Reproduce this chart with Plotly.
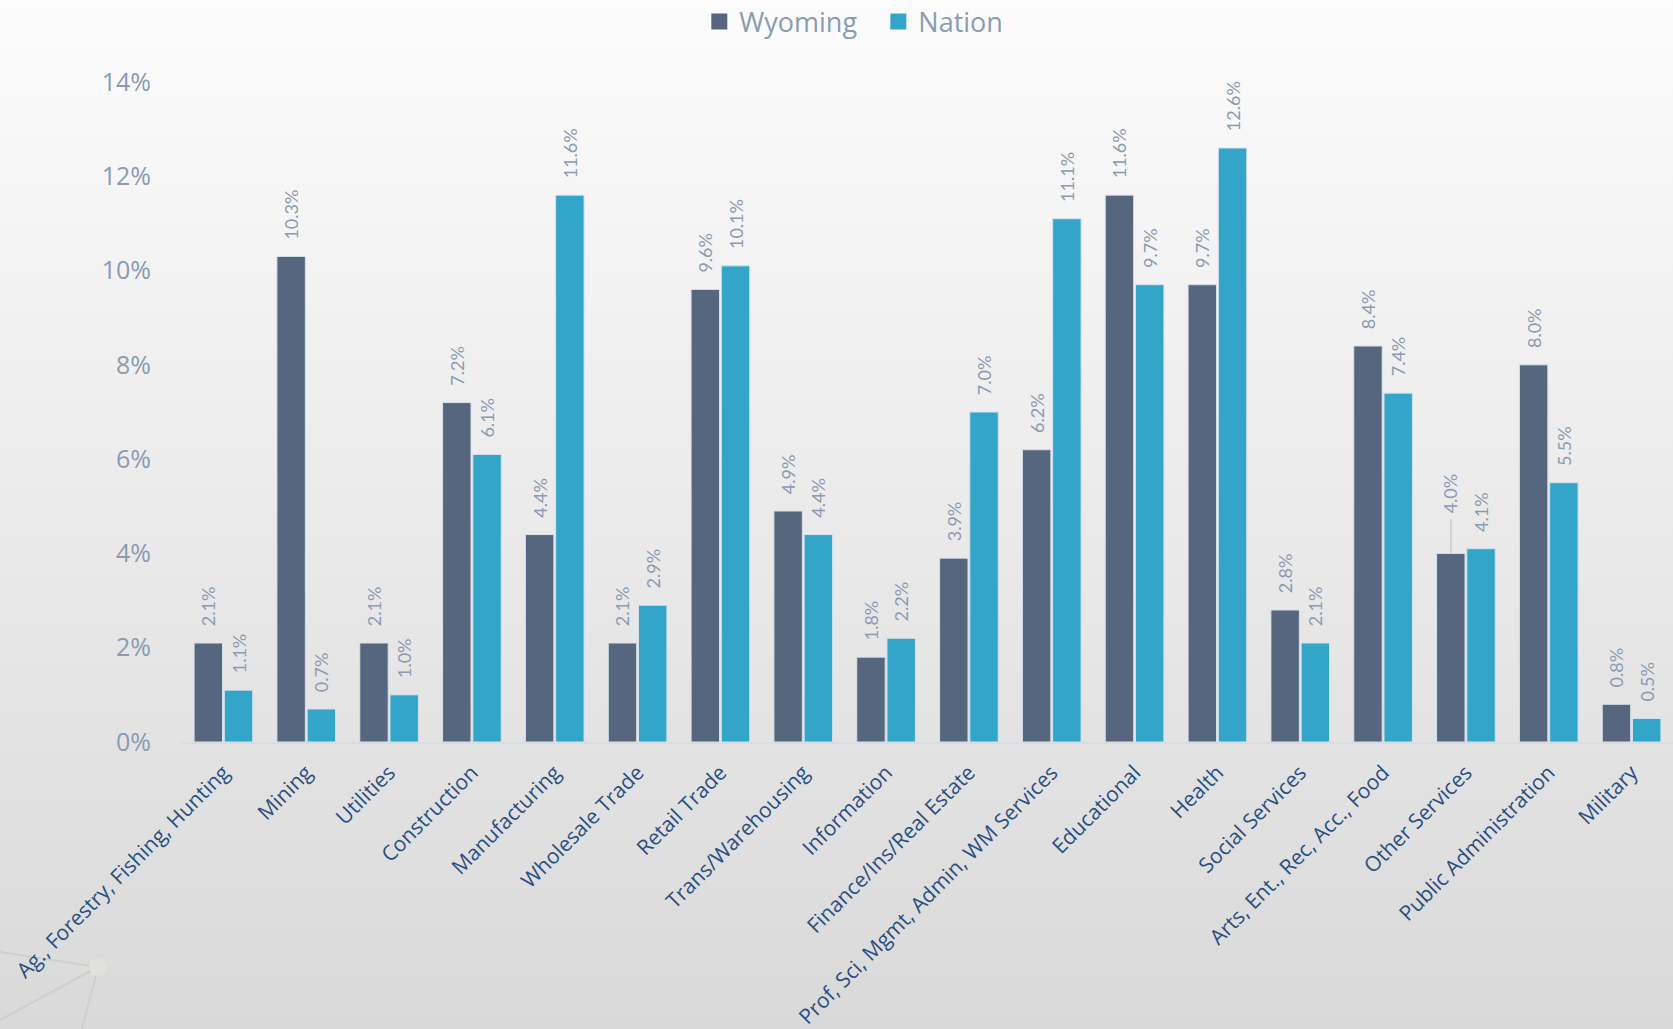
import base64
import plotly.graph_objects as go

# Industry shares, Wyoming vs Nation (percent of employment)
categories = ["Ag., Forestry, Fishing, Hunting", "Mining", "Utilities", "Construction",
              "Manufacturing", "Wholesale Trade", "Retail Trade", "Trans/Warehousing",
              "Information", "Finance/Ins/Real Estate", "Prof, Sci, Mgmt, Admin, WM Services",
              "Educational", "Health", "Social Services", "Arts, Ent., Rec, Acc., Food",
              "Other Services", "Public Administration", "Military"]
wyoming = [2.1, 10.3, 2.1, 7.2, 4.4, 2.1, 9.6, 4.9, 1.8, 3.9, 6.2, 11.6, 9.7, 2.8, 8.4, 4.0, 8.0, 0.8]
nation = [1.1, 0.7, 1.0, 6.1, 11.6, 2.9, 10.1, 4.4, 2.2, 7.0, 11.1, 9.7, 12.6, 2.1, 7.4, 4.1, 5.5, 0.5]
y_ticks = [0, 2, 4, 6, 8, 10, 12, 14]
moved_label = "Other Services"  # Wyoming label that was dragged up in the original

W, H = 1673, 1029
L, R, T, B = 182, 0, 82, 287
pw, ph = W - L - R, H - T - B

WY_COLOR = "#56667e"
NA_COLOR = "#33a5c8"
LABEL_GREY = "#8a9bb2"

# soft grey gradient background, like the original slide
svg = ('<svg xmlns="http://www.w3.org/2000/svg" width="100" height="100" preserveAspectRatio="none">'
       '<defs><linearGradient id="g" x1="0" y1="0" x2="0" y2="1">'
       '<stop offset="0" stop-color="#fcfcfc"/><stop offset="1" stop-color="#d9d9d9"/>'
       '</linearGradient></defs><rect width="100" height="100" fill="url(#g)"/></svg>')
bg_src = "data:image/svg+xml;base64," + base64.b64encode(svg.encode()).decode()


def px_to_paper(x, y):
    return (x - L) / pw, (T + ph - y) / ph


pad = "\u00a0\u00a0\u00a0"

fig = go.Figure()
for name, vals, color in [("Wyoming", wyoming, WY_COLOR), ("Nation", nation, NA_COLOR)]:
    texts = [pad + f"{v:.1f}%" for v in vals]
    if name == "Wyoming":
        texts[categories.index(moved_label)] = ""
    fig.add_trace(go.Bar(
        x=categories, y=vals, name=name, showlegend=False,
        marker=dict(color=color, line=dict(color="#d6e0ea", width=1)),
        text=texts, textposition="outside", textangle=-90,
        textfont=dict(family="Lato", size=18, color=LABEL_GREY),
        constraintext="none", cliponaxis=False,
    ))
    # legend swatch
    fig.add_trace(go.Scatter(x=[None], y=[None], mode="markers", name=name,
                             marker=dict(symbol="square", size=18, color=color)))

# dragged label with its leader line
i = categories.index(moved_label)
fig.add_annotation(x=moved_label, y=wyoming[i], xshift=-15, text=f"{wyoming[i]:.1f}%",
                   textangle=-90, showarrow=True, arrowhead=0, arrowwidth=1.5,
                   arrowcolor="#c3ccd8", ax=0, ay=-60, borderpad=5,
                   font=dict(family="Lato", size=18, color=LABEL_GREY))

fig.add_layout_image(dict(
    source=bg_src, xref="paper", yref="paper",
    x=-L / pw, y=1 + T / ph, sizex=W / pw, sizey=H / ph,
    xanchor="left", yanchor="top", sizing="stretch", layer="below",
))

# faint network decoration in the bottom-left corner
node = px_to_paper(98, 967)
for end in [(0, 952), (0, 1020), (82, 1029)]:
    e = px_to_paper(*end)
    fig.add_shape(type="line", xref="paper", yref="paper", layer="below",
                  x0=node[0], y0=node[1], x1=e[0], y1=e[1],
                  line=dict(color="#d1cfc9", width=2))
c0, c1 = px_to_paper(89, 958), px_to_paper(107, 976)
fig.add_shape(type="circle", xref="paper", yref="paper", layer="below",
              x0=c0[0], y0=c0[1], x1=c1[0], y1=c1[1],
              fillcolor="#e2e0dc", line=dict(width=0))

fig.update_layout(
    width=W, height=H,
    margin=dict(l=L, r=R, t=T, b=B, autoexpand=False),
    paper_bgcolor="#e6e6e6", plot_bgcolor="rgba(0,0,0,0)",
    barmode="group", bargap=0.27, bargroupgap=0.06,
    legend=dict(orientation="h", xref="container", yref="container",
                xanchor="center", x=0.525, yanchor="middle", y=1 - 22 / H,
                bgcolor="rgba(0,0,0,0)", itemwidth=30, entrywidth=134,
                font=dict(family="Open Sans", size=27, color="#8a9bb2")),
    xaxis=dict(tickangle=-45, tickfont=dict(family="Open Sans", size=21, color="#2a4f82"),
               showline=True, linecolor="#d8dde4", linewidth=2, showgrid=False,
               ticklabelstandoff=8),
    yaxis=dict(range=[0, 14], tickvals=y_ticks, ticktext=[f"{v}%" for v in y_ticks],
               tickfont=dict(family="Open Sans", size=25, color=LABEL_GREY),
               showgrid=False, zeroline=False, ticklabelstandoff=30),
)

fig.write_html("out.html", config={"displayModeBar": False},
               post_script="document.body.style.margin='0';")
